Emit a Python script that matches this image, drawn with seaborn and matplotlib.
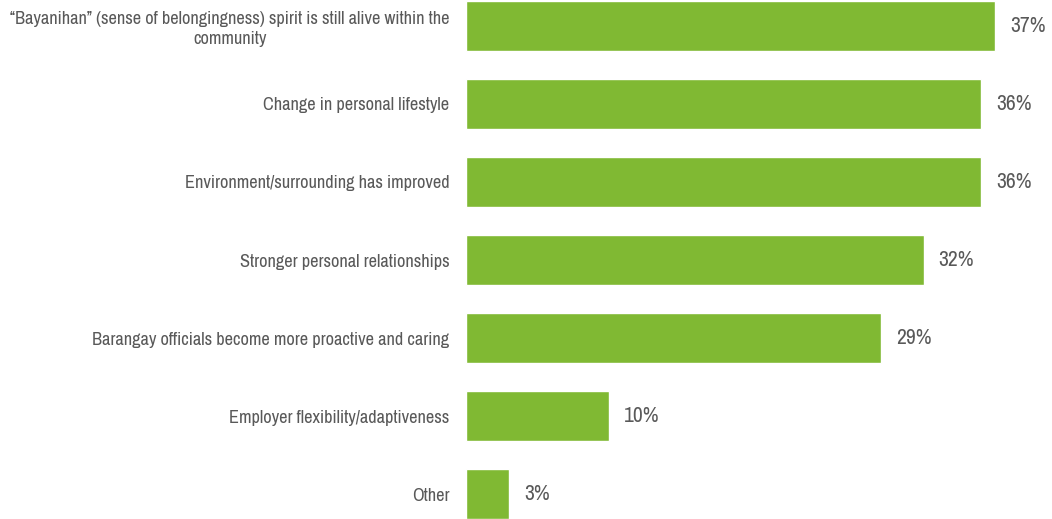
import matplotlib
matplotlib.use("Agg")
import matplotlib.pyplot as plt
import seaborn as sns
import pandas as pd

categories = [
    "\u201cBayanihan\u201d (sense of belongingness) spirit is still alive within the\ncommunity",
    "Change in personal lifestyle",
    "Environment/surrounding has improved",
    "Stronger personal relationships",
    "Barangay officials become more proactive and caring",
    "Employer flexibility/adaptiveness",
    "Other",
]
values = [37, 36, 36, 32, 29, 10, 3]

sns.set_theme(style="white")
plt.rcParams["font.family"] = ["Archivo Narrow", "Roboto Condensed", "DejaVu Sans"]

df = pd.DataFrame({"category": categories, "value": values})

fig = plt.figure(figsize=(10.52, 5.19), dpi=100)
ax = fig.add_axes([466 / 1052, 0, 572 / 1052, 1])

sns.barplot(data=df, x="value", y="category", color="#80B933", saturation=1,
            width=0.63, ax=ax)

ax.set_xlim(0, 40)
ax.set_ylim(6.32, -0.333)
ax.set_xlabel("")
ax.set_ylabel("")
ax.set_xticks([])
for s in ax.spines.values():
    s.set_visible(False)

ax.tick_params(axis="y", length=0, pad=12, labelsize=13.2, labelcolor="#595959")
for lbl in ax.get_yticklabels():
    lbl.set_multialignment("center")
    lbl.set_linespacing(1.3)

for i, v in enumerate(values):
    ax.text(v + 1.05, i, f"{v}%", va="center", ha="left",
            fontsize=15.5, color="#595959")

fig.savefig("out.png", dpi=100)
